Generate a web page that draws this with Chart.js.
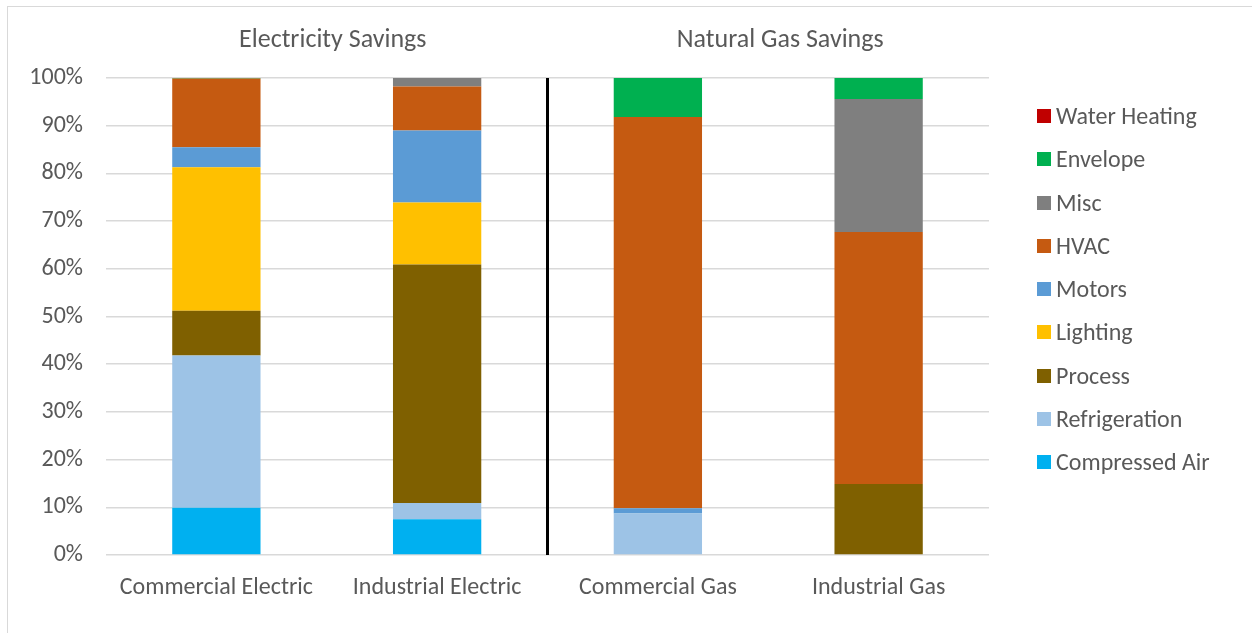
<!DOCTYPE html>
<html>
<head>
<meta charset="utf-8">
<script src="https://cdn.jsdelivr.net/npm/chart.js@4"></script>
<style>
  html, body { margin: 0; padding: 0; background: #fff; }
  #wrap { position: relative; width: 1252px; height: 633px; overflow: hidden; }
  #frame { position: absolute; left: 7px; top: 6px; width: 1300px; height: 700px;
           border-left: 1.5px solid #d9d9d9; border-top: 1.5px solid #d9d9d9; }
  #legend { position: absolute; left: 1037px; top: 101px; font-family: Carlito, "Open Sans", sans-serif;
            font-size: 24px; line-height: 29px; color: #595959; }
  .item { height: 43.25px; display: flex; align-items: flex-start; }
  .box { width: 14px; height: 14px; margin-top: 8px; margin-right: 5px; }
</style>
</head>
<body>
<div id="wrap">
  <div id="frame"></div>
  <canvas id="chart" width="1252" height="633"></canvas>
  <div id="legend"></div>
</div>
<script>
// categories and percentages
const categories = ["Commercial Electric", "Industrial Electric", "Commercial Gas", "Industrial Gas"];
const groupTitles = ["Electricity Savings", "Natural Gas Savings"];
const yTicks = [0, 10, 20, 30, 40, 50, 60, 70, 80, 90, 100];

const compressedAir = [9.9, 7.5, 0, 0];
const refrigeration = [31.9, 3.4, 8.7, 0];
const processLoad   = [9.4, 50.0, 0, 14.9];
const lighting      = [30.1, 13.0, 0, 0];
const motors        = [4.2, 15.1, 1.1, 0];
const hvac          = [14.4, 9.2, 82.0, 52.8];
const misc          = [0, 1.8, 0, 27.9];
const envelope      = [0.1, 0, 8.2, 4.4];
const waterHeating  = [0, 0, 0, 0];

const font = 'Carlito, "Open Sans", sans-serif';
const textColor = "#595959";

const series = [
  { label: "Compressed Air", data: compressedAir, color: "#00B0F0" },
  { label: "Refrigeration", data: refrigeration, color: "#9DC3E6" },
  { label: "Process", data: processLoad, color: "#7F6000" },
  { label: "Lighting", data: lighting, color: "#FFC000" },
  { label: "Motors", data: motors, color: "#5B9BD5" },
  { label: "HVAC", data: hvac, color: "#C55A11" },
  { label: "Misc", data: misc, color: "#7F7F7F" },
  { label: "Envelope", data: envelope, color: "#00B050" },
  { label: "Water Heating", data: waterHeating, color: "#C00000" }
];

// divider between the electric and gas groups, plus the two group titles
const groupDecor = {
  id: "groupDecor",
  afterDatasetsDraw(chart) {
    const { ctx, chartArea } = chart;
    const x = chart.scales.x;
    const midX = (x.getPixelForValue(1) + x.getPixelForValue(2)) / 2;
    ctx.save();
    ctx.strokeStyle = "#000";
    ctx.lineWidth = 3;
    ctx.beginPath();
    ctx.moveTo(midX, chartArea.top);
    ctx.lineTo(midX, chartArea.bottom);
    ctx.stroke();

    ctx.fillStyle = textColor;
    ctx.font = "26px " + font;
    ctx.textAlign = "center";
    ctx.textBaseline = "middle";
    const t1 = (x.getPixelForValue(0) + x.getPixelForValue(1)) / 2 + 6;
    const t2 = (x.getPixelForValue(2) + x.getPixelForValue(3)) / 2 + 12;
    ctx.fillText(groupTitles[0], t1, 40);
    ctx.fillText(groupTitles[1], t2, 40);
    ctx.restore();
  }
};

const chart = new Chart(document.getElementById("chart"), {
  type: "bar",
  data: {
    labels: categories,
    datasets: series.map(s => ({
      label: s.label,
      data: s.data,
      backgroundColor: s.color,
      borderWidth: 0,
      categoryPercentage: 1,
      barPercentage: 0.4
    }))
  },
  options: {
    responsive: false,
    animation: false,
    layout: { padding: { top: 78, right: 263, left: 0, bottom: 0 } },
    plugins: {
      legend: { display: false },
      tooltip: { enabled: false }
    },
    scales: {
      x: {
        stacked: true,
        grid: { display: false, drawTicks: false },
        border: { display: false },
        ticks: { color: textColor, font: { family: font, size: 24 }, padding: 19 },
        afterFit(scale) { scale.height = 78; }
      },
      y: {
        stacked: true,
        min: 0,
        max: 100,
        afterBuildTicks(scale) { scale.ticks = yTicks.map(v => ({ value: v })); },
        grid: { color: "#d9d9d9", lineWidth: 1.5, drawTicks: false },
        border: { display: false },
        ticks: {
          color: textColor,
          font: { family: font, size: 24 },
          padding: 23,
          callback: v => v + "%"
        },
        afterFit(scale) { scale.width = 106; }
      }
    }
  },
  plugins: [groupDecor]
});

// legend, top to bottom in reverse stacking order
const legend = document.getElementById("legend");
[...series].reverse().forEach(s => {
  const row = document.createElement("div");
  row.className = "item";
  row.innerHTML = `<div class="box" style="background:${s.color}"></div><span>${s.label}</span>`;
  legend.appendChild(row);
});
</script>
</body>
</html>
